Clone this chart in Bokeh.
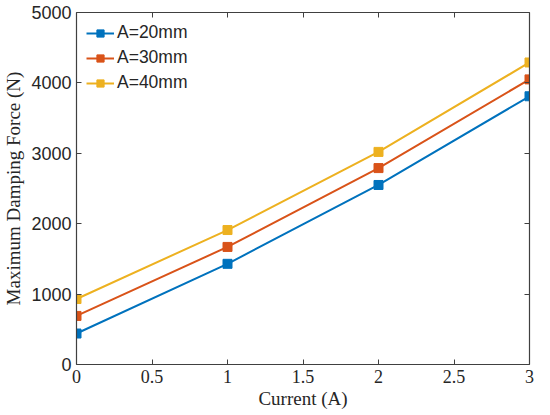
from bokeh.plotting import figure
from bokeh.models import LinearAxis, Range1d, FixedTicker, Legend, LegendItem
from bokeh.embed import file_html
from bokeh.resources import INLINE

current = [0, 1, 2, 3]
force_20 = [440, 1430, 2550, 3810]
force_30 = [690, 1670, 2790, 4050]
force_40 = [930, 1910, 3020, 4290]
series_labels = ["A=20mm", "A=30mm", "A=40mm"]
colors = ["#0072BD", "#D95319", "#EDB120"]
x_ticks = [0, 0.5, 1, 1.5, 2, 2.5, 3]
y_ticks = [0, 1000, 2000, 3000, 4000, 5000]

p = figure(frame_width=453, frame_height=352, output_backend="svg", toolbar_location=None,
           x_range=Range1d(0, 3), y_range=Range1d(0, 5000),
           min_border_left=68, min_border_right=10, min_border_top=12, min_border_bottom=40,
           x_axis_location=None, y_axis_location=None)
p.grid.visible = False
p.outline_line_color = None
p.background_fill_color = "white"
p.border_fill_color = "white"

axcol = "#404040"
serif = "Liberation Serif"
sans = "Liberation Sans"

def style(ax, ticks, labels=True, font=sans, size="15px"):
    ax.ticker = FixedTicker(ticks=ticks)
    ax.axis_line_color = axcol
    ax.axis_line_width = 1.2
    ax.major_tick_line_color = axcol
    ax.major_tick_in = 5
    ax.major_tick_out = 0
    ax.minor_tick_line_color = None
    ax.major_label_text_font = font
    ax.major_label_text_font_size = size
    ax.major_label_text_color = "#262626"
    if not labels:
        ax.major_label_text_alpha = 0
        ax.major_label_text_font_size = "0px"
        ax.major_label_standoff = 0
    ax.axis_label_text_font = serif
    ax.axis_label_text_font_style = "normal"
    ax.axis_label_text_font_size = "19px"
    ax.axis_label_text_color = "#262626"

xb = LinearAxis(axis_label="Current (A)")
style(xb, x_ticks, font=serif, size="18px")
xb.major_label_standoff = 5
xb.axis_label_standoff = 2
p.add_layout(xb, "below")
yl = LinearAxis(axis_label="Maximum Damping Force (N)")
style(yl, y_ticks, font=sans, size="18px")
yl.major_label_standoff = 5
yl.axis_label_standoff = 4
p.add_layout(yl, "left")
xt = LinearAxis()
style(xt, x_ticks, labels=False)
p.add_layout(xt, "above")
yr = LinearAxis()
style(yr, y_ticks, labels=False)
p.add_layout(yr, "right")

items = []
for ys, lab, c in zip([force_20, force_30, force_40], series_labels, colors):
    l = p.line(current, ys, line_color=c, line_width=2)
    m = p.scatter(current, ys, marker="square", size=9, fill_color=c, line_color=c)
    items.append(LegendItem(label=lab, renderers=[l, m]))

leg = Legend(items=items, location="top_left")
leg.border_line_color = None
leg.background_fill_alpha = 0
leg.label_text_font = sans
leg.label_text_font_size = "17.5px"
leg.label_text_color = "#262626"
leg.glyph_width = 28
leg.glyph_height = 18
leg.spacing = 4
leg.padding = 2
leg.margin = 10
leg.label_standoff = 3
p.add_layout(leg)

open("out.html", "w").write(file_html(p, INLINE))
